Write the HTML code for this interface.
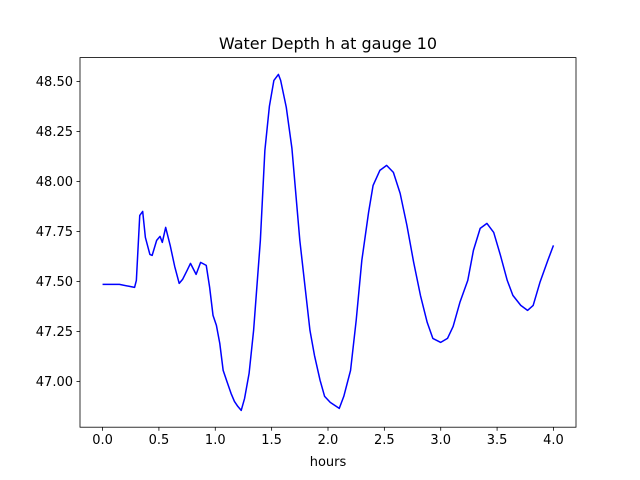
<!DOCTYPE html>
<html><head><meta charset="utf-8"><style>body{margin:0;background:#fff}svg{display:block;font-family:"DejaVu Sans","Liberation Sans",sans-serif}</style></head>
<body>
<svg id="chart" width="640" height="480" viewBox="0 0 640 480"></svg>
<script>
const hours=[0,0.15,0.24,0.284,0.30,0.33,0.356,0.38,0.42,0.44,0.48,0.51,0.53,0.56,0.60,0.64,0.68,0.71,0.75,0.78,0.83,0.87,0.92,0.95,0.98,1.01,1.04,1.07,1.10,1.14,1.17,1.20,1.23,1.26,1.30,1.34,1.40,1.44,1.48,1.52,1.56,1.58,1.63,1.68,1.75,1.80,1.84,1.88,1.93,1.97,2.02,2.06,2.10,2.14,2.20,2.25,2.30,2.36,2.40,2.46,2.52,2.58,2.64,2.70,2.76,2.82,2.88,2.93,3.00,3.06,3.11,3.17,3.24,3.29,3.35,3.41,3.47,3.53,3.59,3.64,3.71,3.77,3.82,3.88,3.95,4.0];
const depth=[47.485,47.485,47.475,47.47,47.505,47.83,47.85,47.72,47.635,47.63,47.705,47.725,47.695,47.77,47.68,47.575,47.49,47.51,47.555,47.59,47.535,47.595,47.58,47.47,47.33,47.28,47.19,47.055,47.005,46.94,46.90,46.875,46.855,46.915,47.04,47.255,47.705,48.155,48.375,48.505,48.535,48.505,48.37,48.165,47.705,47.455,47.255,47.13,47.005,46.925,46.895,46.88,46.865,46.925,47.055,47.305,47.605,47.845,47.98,48.055,48.08,48.045,47.94,47.78,47.595,47.43,47.295,47.215,47.195,47.215,47.275,47.395,47.505,47.655,47.765,47.79,47.745,47.63,47.505,47.43,47.38,47.355,47.38,47.495,47.605,47.68];
const xTicks=[0,0.5,1,1.5,2,2.5,3,3.5,4];
const xTickLabels=["0.0","0.5","1.0","1.5","2.0","2.5","3.0","3.5","4.0"];
const yTicks=[47,47.25,47.5,47.75,48,48.25,48.5];
const yTickLabels=["47.00","47.25","47.50","47.75","48.00","48.25","48.50"];
const L=80,R=576,T=57.6,B=427.2;
const xmin0=Math.min(...hours),xmax0=Math.max(...hours),ymin0=Math.min(...depth),ymax0=Math.max(...depth);
const xm=(xmax0-xmin0)*0.05,ym=(ymax0-ymin0)*0.05;
const x0=xmin0-xm,x1=xmax0+xm,y0=ymin0-ym,y1=ymax0+ym;
const sx=v=>L+(v-x0)/(x1-x0)*(R-L);
const sy=v=>B-(v-y0)/(y1-y0)*(B-T);
const svg=document.getElementById('chart');const NS="http://www.w3.org/2000/svg";
function mk(t,a,txt){const e=document.createElementNS(NS,t);for(const k in a)e.setAttribute(k,a[k]);if(txt!==undefined)e.textContent=txt;svg.appendChild(e);return e;}
let d=hours.map((h,i)=>(i?'L':'M')+sx(h).toFixed(2)+','+sy(depth[i]).toFixed(2)).join('');
const line=mk('path',{d:d,fill:'none',stroke:'#0000ff','stroke-width':1.5,'stroke-linejoin':'round'});


const frame=mk('rect',{x:L,y:T,width:R-L,height:B-T,fill:'none',stroke:'#000','stroke-width':0.8});


xTicks.forEach((v,i)=>{const x=sx(v);mk('line',{x1:x,x2:x,y1:B,y2:B+3.5,stroke:'#000','stroke-width':0.8});
const t=mk('text',{x:x,y:B+17,'text-anchor':'middle','font-size':'13px'},xTickLabels[i]);

});
yTicks.forEach((v,i)=>{const y=sy(v);mk('line',{x1:L-3.5,x2:L,y1:y,y2:y,stroke:'#000','stroke-width':0.8});
const t=mk('text',{x:L-7,y:y+4.5,'text-anchor':'end','font-size':'13px'},yTickLabels[i]);

});
const xt=mk('text',{x:(L+R)/2,y:466,'text-anchor':'middle','font-size':'13px'},'hours');


const tt=mk('text',{x:(L+R)/2,y:49,'text-anchor':'middle','font-size':'16px'},'Water Depth h at gauge 10');


</script>
</body></html>
